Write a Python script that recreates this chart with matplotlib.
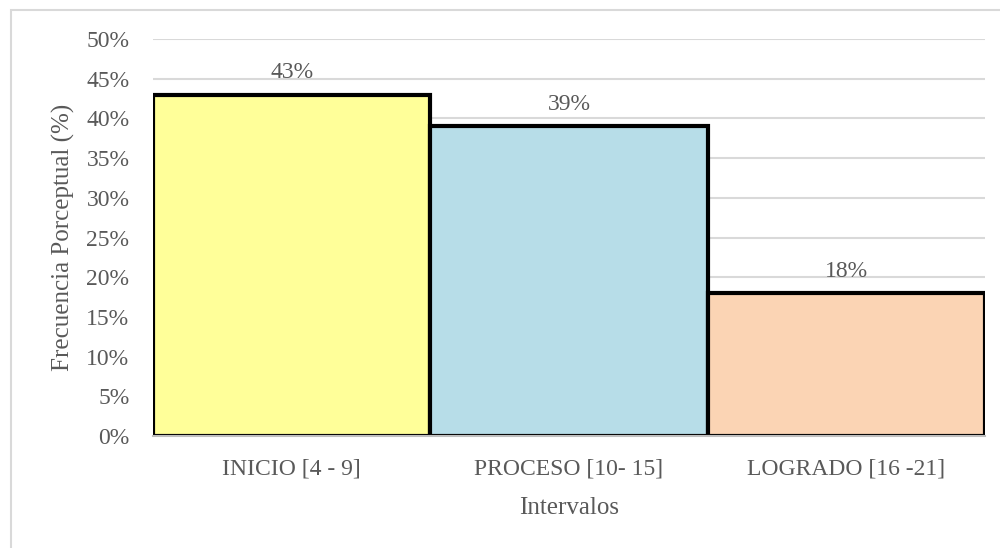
import numpy as np
import matplotlib.pyplot as plt
from matplotlib.patches import Rectangle

categorias = ["INICIO [4 - 9]", "PROCESO [10- 15]", "LOGRADO [16 -21]"]
porcentajes = [43, 39, 18]
colores = ["#FFFF99", "#B7DDE8", "#FBD4B4"]

plt.rcParams['font.family'] = ['Liberation Serif', 'DejaVu Serif']
gris = "#595959"

fig = plt.figure(figsize=(10, 5.48), dpi=100)
ax = fig.add_axes([0.153, 0.204, 0.832, 0.725])

x = np.arange(len(categorias))
ax.bar(x, porcentajes, width=1.0, color=colores, edgecolor="black", linewidth=3, zorder=3)
for xi, v in zip(x, porcentajes):
    ax.annotate(f"{v}%", (xi, v), xytext=(0, 8), textcoords="offset points",
                ha="center", va="bottom", fontsize=17, color=gris)

ax.set_xlim(-0.5, len(categorias) - 0.5)
ax.set_ylim(0, 50)
ax.set_yticks(np.arange(0, 51, 5))
ax.set_yticklabels([f"{t}%" for t in range(0, 51, 5)])
ax.set_xticks(x)
ax.set_xticklabels(categorias)
ax.tick_params(axis="both", length=0, labelsize=17, labelcolor=gris)
ax.tick_params(axis="y", pad=17)
ax.tick_params(axis="x", pad=16)
ax.grid(axis="y", color="#D9D9D9", linewidth=1.5, zorder=0)
for s in ["top", "right", "left"]:
    ax.spines[s].set_visible(False)
ax.spines["bottom"].set_color("#BFBFBF")
ax.spines["bottom"].set_linewidth(1.5)
ax.spines["bottom"].set_zorder(4)

ax.set_ylabel("Frecuencia Porceptual (%)", fontsize=18, color=gris, labelpad=8)
ax.set_xlabel("Intervalos", fontsize=18, color=gris, labelpad=13)

fig.patches.append(Rectangle((0.011, -0.1), 1.2, 1.082, transform=fig.transFigure,
                             fill=False, edgecolor="#D9D9D9", linewidth=1.5))

fig.savefig("out.png", dpi=100)
